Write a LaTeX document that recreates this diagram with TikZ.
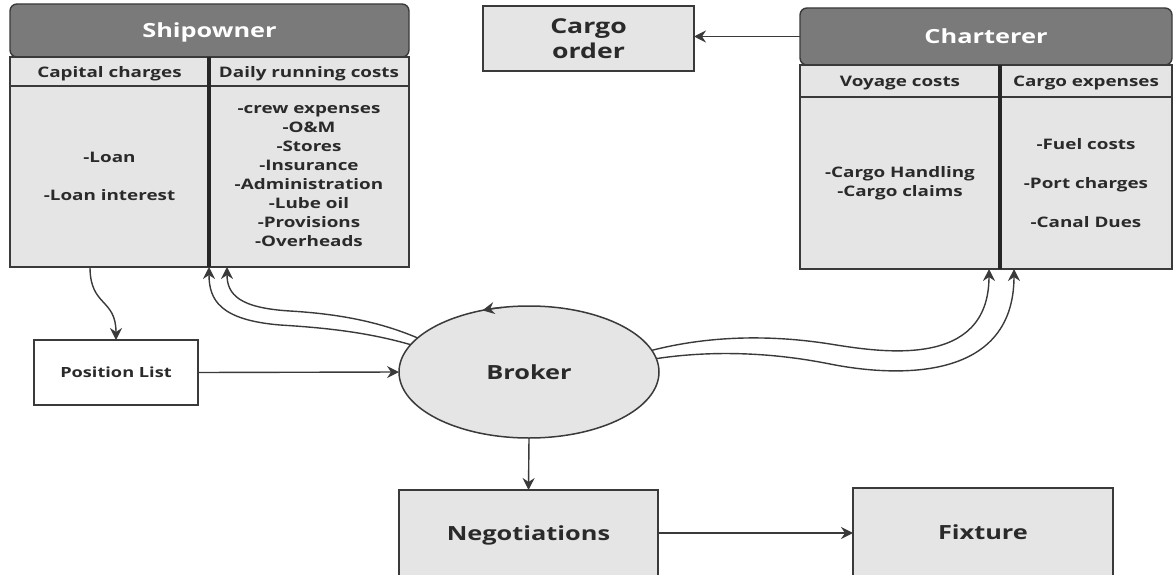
\documentclass[tikz,border=0pt]{standalone}
\usepackage{fontspec}
\setmainfont{Open Sans}[FakeStretch=1.3]
\usetikzlibrary{arrows.meta,shapes.geometric,calc}

\definecolor{headgray}{HTML}{7A7A7A}
\definecolor{cellgray}{HTML}{E5E5E5}
\definecolor{inkgray}{HTML}{2A2A2A}
\definecolor{linegray}{HTML}{3A3A3A}

\tikzset{
  every node/.style={inner sep=0pt, outer sep=0pt, font=\bfseries, text=inkgray, align=center},
  headbox/.style={draw=linegray, line width=1.4pt, fill=headgray, rounded corners=7pt,
    text=white, font=\bfseries\fontsize{19.5}{23}\selectfont, text depth=0pt, anchor=north west},
  subcell/.style={draw=linegray, line width=1.8pt, fill=cellgray,
    font=\bfseries\fontsize{14.5}{17}\selectfont, text depth=0pt, anchor=north west},
  bodycell/.style={draw=linegray, line width=1.8pt, fill=cellgray,
    font=\bfseries\fontsize{14.5}{19}\selectfont, anchor=north west},
  divider/.style={draw=black!85, line width=3.5pt},
  plainbox/.style={draw=linegray, line width=1.5pt, fill=cellgray},
  conn/.style={draw=linegray, line width=1.4pt, -{Stealth[length=12pt,width=12pt,inset=4pt]}},
}

\begin{document}
\begin{tikzpicture}[x=1pt,y=-1pt]
\useasboundingbox (0,0) rectangle (1175,575);
\clip (0,0) rectangle (1175,575);

% ---------- Shipowner table ----------
\node[headbox, minimum width=399pt, minimum height=53pt] (so_head) at (10,4) {Shipowner};
\node[subcell, minimum width=199pt, minimum height=29pt] (so_cap) at (10,57) {Capital charges};
\node[subcell, minimum width=200pt, minimum height=29pt] (so_daily) at (209,57) {Daily running costs};
\node[bodycell, minimum width=199pt, minimum height=181pt] (so_capbody) at (10,86)
  {-Loan\\[19pt]-Loan interest};
\node[bodycell, minimum width=200pt, minimum height=181pt] (so_dailybody) at (209,86)
  {-crew expenses\\-O\&M\\-Stores\\-Insurance\\-Administration\\-Lube oil\\-Provisions\\-Overheads};
\draw[divider] (so_cap.north east) -- (so_capbody.south east);

% ---------- Charterer table ----------
\node[headbox, minimum width=372pt, minimum height=57pt] (ch_head) at (800,8) {Charterer};
\node[subcell, minimum width=200pt, minimum height=32pt] (ch_voy) at (800,65) {Voyage costs};
\node[subcell, minimum width=172pt, minimum height=32pt] (ch_cargo) at (1000,65) {Cargo expenses};
\node[bodycell, minimum width=200pt, minimum height=172pt] (ch_vbody) at (800,97)
  {-Cargo Handling\\-Cargo claims};
\node[bodycell, minimum width=172pt, minimum height=172pt] (ch_cbody) at (1000,97)
  {-Fuel costs\\[20pt]-Port charges\\[20pt]-Canal Dues};
\draw[divider] (ch_voy.north east) -- (ch_vbody.south east);

% ---------- Single boxes ----------
\node[plainbox, minimum width=211pt, minimum height=65pt,
  font=\bfseries\fontsize{20.5}{25}\selectfont] (cargo) at (588.5,38.5) {Cargo\\order};
\node[draw=linegray, line width=1.5pt, fill=white, minimum width=164pt, minimum height=65pt,
  font=\bfseries\fontsize{14}{17}\selectfont] (pos) at (116,372.5) {Position List};
\node[ellipse, draw=linegray, line width=1.5pt, fill=cellgray, minimum width=260pt,
  minimum height=132pt, font=\bfseries\fontsize{19.5}{23}\selectfont] (broker) at (529,372) {Broker};
\node[plainbox, minimum width=259pt, minimum height=86pt, text depth=0pt,
  font=\bfseries\fontsize{19.5}{23}\selectfont] (neg) at (528.5,533) {Negotiations};
\node[plainbox, minimum width=260pt, minimum height=88pt,
  font=\bfseries\fontsize{19.5}{23}\selectfont] (fix) at (983,532) {Fixture};

% ---------- Connectors ----------
\draw[conn] (ch_head.west) -- (ch_head.west -| cargo.east);
\draw[conn] ([xshift=-19.5pt]so_capbody.south) .. controls +(0,40) and +(0,-42) .. (pos.north);
\draw[conn] (pos.east) -- (broker.west);
\draw[conn] (broker.south) -- (neg.north);
\draw[conn] (neg.east) -- (neg.east -| fix.west);

% broker back to the shipowner
\draw[conn] (broker.167) .. controls (370,333) and (330,328) .. (280,325)
  .. controls (220,320) and (209,300) .. (so_capbody.south east);
\draw[conn] (broker.163) .. controls (380,322) and (340,314) .. (290,311)
  .. controls (240,308) and (227,295) .. ([xshift=18pt]so_capbody.south east);

% broker to the charterer
\draw[conn] (broker.10) .. controls (700,338) and (760,333) .. (830,344)
  .. controls (880,352) and (989,370) .. ([xshift=-11pt]ch_vbody.south east);
\draw[conn] (broker.6) .. controls (700,352) and (760,350) .. (830,364)
  .. controls (890,376) and (1014,385) .. ([xshift=14pt]ch_vbody.south east);

% circulating mark on the broker outline
\draw[conn] ($(broker.center)+(258:130 and 66)$) arc[start angle=258, end angle=249,
  x radius=130, y radius=66];
\end{tikzpicture}
\end{document}
